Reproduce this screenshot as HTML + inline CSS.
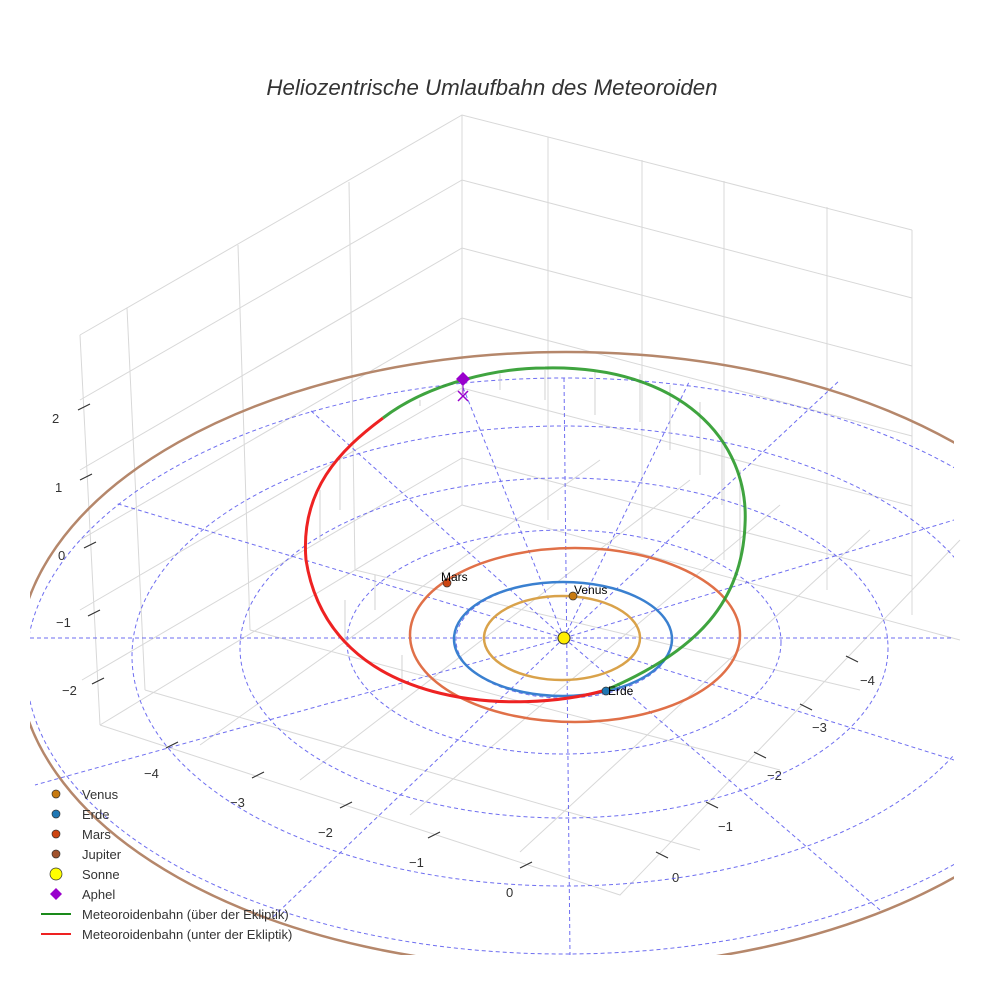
<!DOCTYPE html>
<html><head><meta charset="utf-8"><style>
body{margin:0;background:#fff}
svg{display:block;font-family:"Liberation Sans",sans-serif}
</style></head><body>
<svg width="984" height="984" viewBox="0 0 984 984">
<defs><clipPath id="c"><rect x="30" y="0" width="924" height="955"/></clipPath></defs>
<text x="492" y="95" text-anchor="middle" font-size="22.3" font-style="italic" fill="#333">Heliozentrische Umlaufbahn des Meteoroiden</text>
<g stroke="#d8d8d8" stroke-width="1" fill="none">
<path d="M80,335 L462,115 L912,230"/>
<path d="M80,335 L100,725 M127,308 L145,690 M238,245 L250,630 M349,182 L355,570 M462,115 L462,505 M548,137 L548,520 M642,160 L642,540 M724,181 L724,560 M827,207 L827,590 M912,230 L912,615"/>
<path d="M80,400 L462,180 L912,298 M80,470 L462,248 L912,366 M80,540 L462,318 L912,436 M80,610 L462,388 L912,506 M82,680 L462,458 L912,576"/>
<path d="M100,725 L620,895 L960,540 M462,505 L960,640 M462,505 L100,725"/>
<path d="M145,690 L700,850 M250,630 L780,770 M355,570 L860,690 M200,745 L600,460 M300,780 L690,480 M410,815 L780,505 M520,852 L870,530"/>
</g>
<g stroke="#333" stroke-width="1.2">
<path d="M78,410 L90,404 M80,480 L92,474 M84,548 L96,542 M88,616 L100,610 M92,684 L104,678"/>
<path d="M166,748 L178,742 M252,778 L264,772 M340,808 L352,802 M428,838 L440,832 M520,868 L532,862"/>
<path d="M846,656 L858,662 M800,704 L812,710 M754,752 L766,758 M706,802 L718,808 M656,852 L668,858"/>
</g>
<g font-size="13" fill="#333">
<text x="52" y="423">2</text><text x="55" y="492">1</text><text x="58" y="560">0</text><text x="56" y="627">−1</text><text x="62" y="695">−2</text>
<text x="144" y="778">−4</text><text x="230" y="807">−3</text><text x="318" y="837">−2</text><text x="409" y="867">−1</text><text x="506" y="897">0</text>
<text x="860" y="685">−4</text><text x="812" y="732">−3</text><text x="767" y="780">−2</text><text x="718" y="831">−1</text><text x="672" y="882">0</text>
</g>
<g clip-path="url(#c)">
<g stroke="#5555ee" stroke-width="1" stroke-dasharray="4,3" fill="none" opacity="0.85">
<ellipse cx="564" cy="640" rx="108" ry="58"/>
<ellipse cx="564" cy="642" rx="217" ry="112"/>
<ellipse cx="564" cy="648" rx="324" ry="170"/>
<ellipse cx="564" cy="656" rx="432" ry="230"/>
<ellipse cx="564" cy="666" rx="538" ry="288"/>
<path d="M30,638 L954,638 M564,378 L570,955"/>
<path d="M564,638 L310,410 M564,638 L840,380 M564,638 L115,503 M564,638 L954,520 M564,638 L35,785 M564,638 L880,910 M564,638 L270,920 M564,638 L954,760 M564,638 L460,380 M564,638 L690,380"/>
</g>
<ellipse cx="566" cy="660" rx="548" ry="308" fill="none" stroke="#b5876b" stroke-width="2.5"/>
</g>
<ellipse cx="575" cy="635" rx="165" ry="87" fill="none" stroke="#e07048" stroke-width="2.5"/>
<ellipse cx="563" cy="639" rx="109" ry="57" fill="none" stroke="#3a80d0" stroke-width="2.5"/>
<ellipse cx="562" cy="638" rx="78" ry="42" fill="none" stroke="#d9a24a" stroke-width="2.5"/>
<g stroke="#c8c8c8" stroke-width="0.8">
<path d="M420,400 L420,406 M500,374 L500,390 M545,370 L545,400 M595,372 L595,415 M640,374 L640,422 M670,385 L670,450 M700,402 L700,475 M722,430 L722,505 M740,470 L740,560 M340,455 L340,510 M320,490 L320,540 M345,600 L345,640 M402,655 L402,690 M375,575 L375,610"/>
</g>
<path d="M606,690 C520,715 330,712 306,560 C300,490 340,450 383,418" fill="none" stroke="#ee2222" stroke-width="3"/>
<path d="M383,418 C430,382 500,368 545,368 C680,365 750,440 745,525 C742,600 700,650 606,690" fill="none" stroke="#2a9a2a" stroke-width="3" opacity="0.9"/>
<path d="M463,379 L463,394" stroke="#9900cc" stroke-width="1"/>
<path d="M458,391 L468,401 M468,391 L458,401" stroke="#9900cc" stroke-width="1.5"/>
<path d="M463,372 L470,379 L463,386 L456,379Z" fill="#9900cc"/>
<circle cx="564" cy="638" r="6" fill="#ffee00" stroke="#333"/>
<circle cx="573" cy="596" r="4" fill="#c77a10" stroke="#333" stroke-width="0.7"/>
<circle cx="606" cy="691" r="4" fill="#1f77b4" stroke="#333" stroke-width="0.7"/>
<circle cx="447" cy="583" r="4" fill="#cc4411" stroke="#333" stroke-width="0.7"/>
<g font-size="12" fill="#000">
<text x="574" y="594">Venus</text><text x="608" y="695">Erde</text><text x="441" y="581">Mars</text>
</g>
<g font-size="13" fill="#333">
<circle cx="56" cy="794" r="4" fill="#c77a10" stroke="#333" stroke-width="0.7"/><text x="82" y="799">Venus</text>
<circle cx="56" cy="814" r="4" fill="#1f77b4" stroke="#333" stroke-width="0.7"/><text x="82" y="819">Erde</text>
<circle cx="56" cy="834" r="4" fill="#cc4411" stroke="#333" stroke-width="0.7"/><text x="82" y="839">Mars</text>
<circle cx="56" cy="854" r="4" fill="#a0522d" stroke="#333" stroke-width="0.7"/><text x="82" y="859">Jupiter</text>
<circle cx="56" cy="874" r="6" fill="#ffff00" stroke="#333" stroke-width="0.7"/><text x="82" y="879">Sonne</text>
<path d="M56,888 L62,894 L56,900 L50,894Z" fill="#9900cc"/><text x="82" y="899">Aphel</text>
<path d="M41,914 L71,914" stroke="#1a8a1a" stroke-width="2"/><text x="82" y="919">Meteoroidenbahn (über der Ekliptik)</text>
<path d="M41,934 L71,934" stroke="#ee2222" stroke-width="2"/><text x="82" y="939">Meteoroidenbahn (unter der Ekliptik)</text>
</g>
</svg>
</body></html>
